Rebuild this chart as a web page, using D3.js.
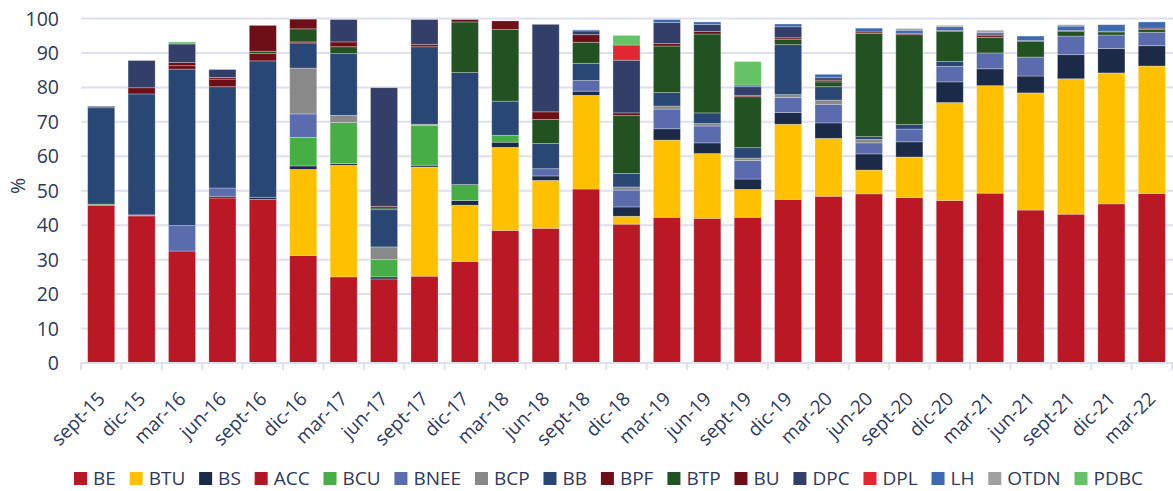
<!DOCTYPE html>
<html>
<head>
<meta charset="utf-8">
<script src="https://cdn.jsdelivr.net/npm/d3@7"></script>
<style>
  body { margin: 0; background: #fff; }
  svg { display: block; font-family: "Open Sans", "Noto Sans", sans-serif; }
</style>
</head>
<body>
<svg id="svg"></svg>
<script>
const categories = ["sept-15","dic-15","mar-16","jun-16","sept-16","dic-16","mar-17","jun-17","sept-17","dic-17",
  "mar-18","jun-18","sept-18","dic-18","mar-19","jun-19","sept-19","dic-19","mar-20","jun-20",
  "sept-20","dic-20","mar-21","jun-21","sept-21","dic-21","mar-22"];

const seriesNames = ["BE","BTU","BS","ACC","BCU","BNEE","BCP","BB","BPF","BTP","BU","DPC","DPL","LH","OTDN","PDBC"];

const BE   = [45.8,42.7,32.5,47.9,47.5,31.2,25.0,24.4,25.2,29.5,38.5,39.1,50.5,40.3,42.3,42.0,42.3,47.5,48.4,49.1,48.0,47.2,49.3,44.4,43.2,46.2,49.2];
const BTU  = [0,0,0,0,0,25.0,32.4,0,31.7,16.3,24.1,13.9,27.2,2.3,22.4,18.8,8.1,21.8,16.8,6.9,11.8,28.4,31.2,34.0,39.3,38.0,37.0];
const BS   = [0,0,0,0.5,0.6,1.0,0.5,0.6,0.5,1.4,1.5,1.3,1.2,2.7,3.3,3.1,3.0,3.4,4.5,4.7,4.4,6.0,4.9,4.9,7.0,7.1,5.9];
const ACC  = [0,0,0,0,0,0,0,0,0,0,0,0,0,0,0,0,0,0,0,0,0,0,0,0,0,0,0];
const BCU  = [0.3,0.3,0,0,0,8.3,11.9,5.0,11.5,4.6,2.0,0,0,0,0,0,0,0,0,0,0,0,0,0,0,0,0];
const BNEE = [0,0,7.4,2.4,0,6.8,0,0,0,0,0,2.1,3.1,4.9,5.7,4.9,5.4,4.4,5.4,3.2,3.7,4.5,4.6,5.5,5.4,3.9,3.9];
const BCP  = [0,0,0,0,0,13.3,2.1,3.7,0.4,0,0,0,0,0.9,0.9,0.7,0.7,0.8,1.2,1.0,0,0,0,0,0,0,0];
const BB   = [28.0,35.1,45.4,29.4,39.6,7.3,17.9,10.8,22.5,32.5,9.9,7.3,5.0,3.9,3.9,3.1,3.0,14.5,3.9,0.8,1.3,1.4,0,0,0,0,0];
const BPF  = [0.3,1.8,1.0,2.2,2.1,0.3,0,0,0,0,0,0,0,0,0,0,0,0,0,0,0,0,0,0,0,0,0];
const BTP  = [0,0,0,0,0.7,3.8,2.0,0.5,0,14.7,20.8,7.0,6.1,16.8,13.5,22.9,14.8,1.6,1.4,30.0,26.1,8.7,4.5,4.5,1.3,0.9,0.8];
const BU   = [0,0,0.9,0.5,7.5,2.8,1.4,0.5,0.7,0.7,2.5,2.2,2.2,0.8,0.7,0.7,0.4,0.4,0.5,0.4,0.4,0.3,0.5,0.3,0.3,0.2,0.4];
const DPC  = [0.2,7.9,5.4,2.3,0,0,6.5,34.4,7.2,0,0,25.4,1.1,15.3,6.1,2.1,2.5,3.2,0.7,0,0,0,0.5,0,0,0,0];
const DPL  = [0,0,0,0,0,0,0,0,0,0,0,0,0,4.4,0,0,0,0,0,0,0,0,0,0,0,0,0];
const LH   = [0,0,0,0,0,0,0,0,0,0,0,0,0.3,0,0.9,0.7,0.5,0.8,1.0,1.1,0.9,1.1,0.5,1.3,1.3,1.9,1.8];
const OTDN = [0,0,0,0,0,0,0,0,0,0,0,0,0,0,0,0,0,0,0,0,0.5,0.4,0.6,0,0.4,0,0];
const PDBC = [0,0,0.6,0,0,0,0,0,0,0,0,0,0,2.8,0,0,6.8,0,0,0,0,0,0,0,0,0,0];

const yTicks = [0,10,20,30,40,50,60,70,80,90,100];

const seriesValues = [BE,BTU,BS,ACC,BCU,BNEE,BCP,BB,BPF,BTP,BU,DPC,DPL,LH,OTDN,PDBC];

const colors = ["#BA1824","#FFC000","#1B2A47","#AE1824","#46AE45","#5A6BAE","#898989","#284775",
  "#6E0F17","#235222","#6E0F17","#333E69","#E22733","#3C69AF","#A0A0A0","#66C266"];

let layout = {"width": 1173,
              "height": 491,
              "marginTop": 18.5,
              "marginRight": 1,
              "marginBottom": 128,
              "marginLeft": 81};

const textColor = "#2E3A5C";
const gridColor = "#DDE0EF";

let svg = d3.select("#svg")
  .attr("width", layout.width)
  .attr("height", layout.height);

// rows for the stack
const table = categories.map((c, i) => {
  let row = {cat: c};
  seriesNames.forEach((s, j) => row[s] = seriesValues[j][i]);
  return row;
});

const stacked = d3.stack().keys(seriesNames)(table);

let xScale = d3.scaleBand()
  .domain(categories)
  .range([layout.marginLeft, layout.width - layout.marginRight])
  .paddingInner(0.33)
  .paddingOuter(0.165);

let yScale = d3.scaleLinear()
  .domain([0, 100])
  .range([layout.height - layout.marginBottom, layout.marginTop]);

let colorScale = d3.scaleOrdinal().domain(seriesNames).range(colors);

// gridlines
svg.append("g")
  .selectAll("line")
  .data(yTicks)
  .join("line")
  .attr("x1", layout.marginLeft)
  .attr("x2", layout.width)
  .attr("y1", d => yScale(d))
  .attr("y2", d => yScale(d))
  .attr("stroke", gridColor)
  .attr("stroke-width", 2);

// y labels
svg.append("g")
  .selectAll("text")
  .data(yTicks)
  .join("text")
  .attr("x", 59)
  .attr("y", d => yScale(d))
  .attr("dy", "0.36em")
  .attr("text-anchor", "end")
  .attr("fill", textColor)
  .attr("font-size", 19.5)
  .text(d => d);

svg.append("text")
  .attr("transform", "translate(25,186) rotate(-90)")
  .attr("text-anchor", "middle")
  .attr("fill", textColor)
  .attr("font-size", 19.5)
  .text("%");

// bars
svg.append("g")
  .selectAll("g")
  .data(stacked)
  .join("g")
  .attr("fill", d => colorScale(d.key))
  .selectAll("rect")
  .data(d => d.filter(p => p[1] - p[0] > 0))
  .join("rect")
  .attr("x", d => xScale(d.data.cat))
  .attr("width", xScale.bandwidth())
  .attr("y", d => yScale(d[1]))
  .attr("height", d => yScale(d[0]) - yScale(d[1]))
  .attr("stroke", "#ffffff")
  .attr("stroke-opacity", 0.35)
  .attr("stroke-width", 0.8);

// x axis line + ticks at category boundaries
const step = xScale.step();
const y0 = yScale(0);
svg.append("line")
  .attr("x1", layout.marginLeft)
  .attr("x2", layout.width)
  .attr("y1", y0)
  .attr("y2", y0)
  .attr("stroke", gridColor)
  .attr("stroke-width", 2);

svg.append("g")
  .selectAll("line")
  .data(d3.range(categories.length + 1))
  .join("line")
  .attr("x1", i => layout.marginLeft + i * step)
  .attr("x2", i => layout.marginLeft + i * step)
  .attr("y1", y0)
  .attr("y2", y0 + 7)
  .attr("stroke", gridColor)
  .attr("stroke-width", 2);

// x labels
svg.append("g")
  .selectAll("text")
  .data(categories)
  .join("text")
  .attr("transform", d => `translate(${xScale(d) + xScale.bandwidth() / 2 + 5}, ${y0 + 37}) rotate(-45)`)
  .attr("text-anchor", "end")
  .attr("fill", textColor)
  .attr("font-size", 19)
  .text(d => d);

// legend
let legend = svg.append("g");
let items = legend.selectAll("g")
  .data(seriesNames)
  .join("g");

items.append("rect")
  .attr("width", 13)
  .attr("height", 13)
  .attr("fill", d => colorScale(d));

items.append("text")
  .attr("x", 19)
  .attr("y", 13)
  .attr("fill", textColor)
  .attr("font-size", 19)
  .text(d => d);

const widths = [];
items.each(function() { widths.push(this.getBBox().width); });
const legendLeft = 74, legendRight = 1143;
const gap = (legendRight - legendLeft - d3.sum(widths)) / (widths.length - 1);
let cursor = legendLeft;
items.attr("transform", (d, i) => {
  const t = `translate(${cursor}, 472)`;
  cursor += widths[i] + gap;
  return t;
});
</script>
</body>
</html>
